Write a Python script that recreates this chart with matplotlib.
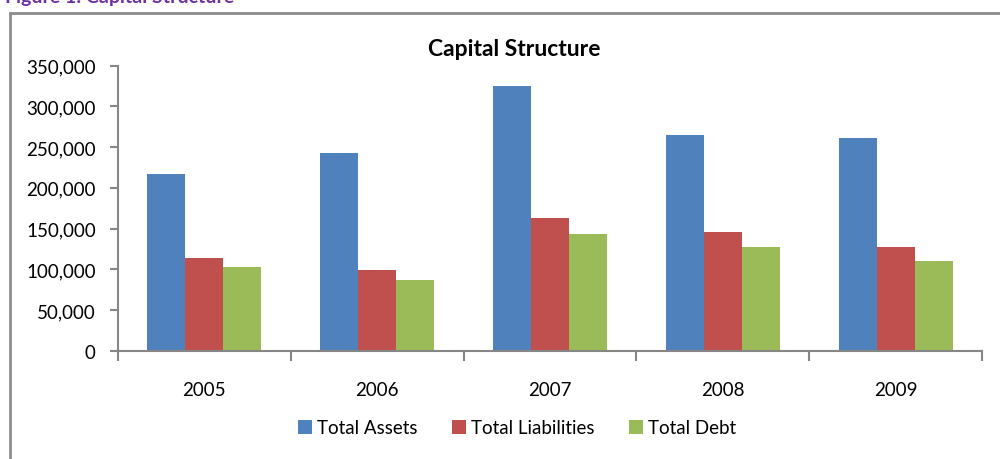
import numpy as np
import matplotlib.pyplot as plt
from matplotlib.patches import Rectangle
from matplotlib.ticker import FuncFormatter

plt.rcParams['font.family'] = ['Lato', 'DejaVu Sans']

years = ['2005', '2006', '2007', '2008', '2009']
total_assets = [216600, 242800, 324800, 264500, 261000]
total_liabilities = [113800, 99000, 163000, 146300, 127000]
total_debt = [102800, 87000, 143200, 127300, 109700]

series = [('Total Assets', total_assets, '#4F81BD'),
          ('Total Liabilities', total_liabilities, '#C0504D'),
          ('Total Debt', total_debt, '#9BBB59')]

W, H = 1000, 460
fig = plt.figure(figsize=(10, 4.6), dpi=100)
ax = fig.add_axes([118 / W, 1 - 351.7 / H, 864 / W, 285 / H])

# chart frame
fig.patches.append(Rectangle((10 / W, -0.05), 1.2, 1 - 14 / H + 0.05,
                             transform=fig.transFigure, fill=False,
                             edgecolor='#8C8C8C', linewidth=2))
fig.text(5 / W, 1 - 3 / H, 'Figure 1: Capital Structure', color='#7030A0',
         fontsize=14, fontweight='bold', ha='left', va='baseline')

x = np.arange(len(years))
bw = 0.22
for i, (name, vals, col) in enumerate(series):
    ax.bar(x + (i - 1) * bw, vals, bw, color=col, label=name, linewidth=0)

ax.set_xlim(-0.5, len(years) - 0.5)
ax.set_ylim(0, 350000)
ax.set_yticks(np.arange(0, 350001, 50000))
ax.yaxis.set_major_formatter(FuncFormatter(lambda v, p: f'{int(v):,}'))
ax.set_xticks(x)
ax.set_xticklabels(years)
ax.set_xticks(np.arange(-0.5, len(years), 1), minor=True)

for s in ['top', 'right']:
    ax.spines[s].set_visible(False)
for s in ['left', 'bottom']:
    ax.spines[s].set_color('#868686')
    ax.spines[s].set_linewidth(1.5)

ax.tick_params(axis='y', length=6, width=1.5, color='#868686', labelsize=13.5, pad=10)
ax.tick_params(axis='x', which='major', length=0, labelsize=13.5, pad=22)
ax.tick_params(axis='x', which='minor', length=7, width=1.5, color='#868686')

fig.text(514 / W, 1 - 50 / H, 'Capital Structure', fontsize=16.5,
         fontweight='bold', ha='center', va='center')

fig.legend(loc='center', bbox_to_anchor=(517 / W, 1 - 429 / H), ncol=3,
           frameon=False, fontsize=13.5, handlelength=0.75, handleheight=0.75,
           handletextpad=0.3, columnspacing=1.8)

plt.savefig('out.png', dpi=100)
